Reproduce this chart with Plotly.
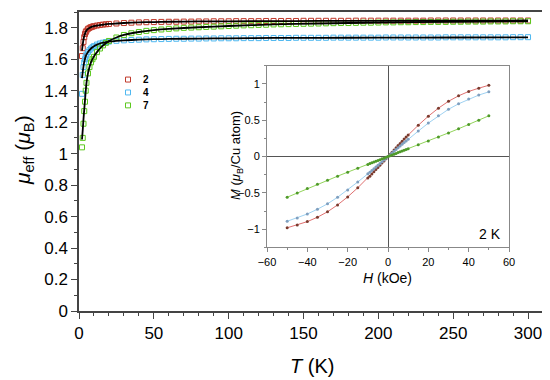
import plotly.graph_objects as go

# ---------------- data: main panel (mu_eff vs T) ----------------
T = [2, 2.5, 3, 3.5, 4, 4.5, 5, 6, 7, 8, 9, 10, 12, 14, 16, 18, 20, 25, 30, 35, 40, 45, 50,
     55, 60, 65, 70, 75, 80, 85, 90, 95, 100, 105, 110, 115, 120, 125, 130, 135, 140, 145, 150,
     155, 160, 165, 170, 175, 180, 185, 190, 195, 200, 205, 210, 215, 220, 225, 230, 235, 240,
     245, 250, 255, 260, 265, 270, 275, 280, 285, 290, 295, 300]

mu_2 = [1.62, 1.67, 1.71, 1.74, 1.760, 1.772, 1.781, 1.793, 1.799, 1.804, 1.807, 1.810, 1.814, 1.817,
        1.820, 1.822, 1.824, 1.827, 1.830, 1.832, 1.834, 1.835, 1.836,
        1.837, 1.838, 1.838, 1.839, 1.839, 1.840, 1.840, 1.841, 1.841, 1.841, 1.842, 1.842, 1.842,
        1.842, 1.843, 1.843, 1.843, 1.843, 1.843, 1.844, 1.844, 1.844, 1.844, 1.844, 1.844, 1.844,
        1.845, 1.845, 1.845, 1.845, 1.845, 1.845, 1.845, 1.845, 1.845, 1.845, 1.846, 1.846, 1.846,
        1.846, 1.846, 1.846, 1.846, 1.846, 1.846, 1.846, 1.846, 1.846, 1.846, 1.846]

mu_4 = [1.38, 1.50, 1.55, 1.58, 1.600, 1.617, 1.630, 1.645, 1.658, 1.668, 1.676, 1.683, 1.693, 1.700,
        1.705, 1.709, 1.712, 1.717, 1.720, 1.722, 1.724, 1.726, 1.727,
        1.728, 1.729, 1.730, 1.730, 1.731, 1.731, 1.732, 1.732, 1.733, 1.733, 1.733, 1.734, 1.734,
        1.734, 1.735, 1.735, 1.735, 1.735, 1.736, 1.736, 1.736, 1.736, 1.736, 1.737, 1.737, 1.737,
        1.737, 1.737, 1.737, 1.737, 1.738, 1.738, 1.738, 1.738, 1.738, 1.738, 1.738, 1.738, 1.739,
        1.739, 1.739, 1.739, 1.739, 1.739, 1.739, 1.739, 1.739, 1.740, 1.740, 1.740]

mu_7 = [1.04, 1.10, 1.19, 1.27, 1.33, 1.40, 1.45, 1.51, 1.55, 1.58, 1.60, 1.615, 1.645, 1.668,
        1.688, 1.704, 1.716, 1.738, 1.754, 1.765, 1.773, 1.780, 1.785,
        1.789, 1.793, 1.796, 1.799, 1.801, 1.803, 1.805, 1.807, 1.809, 1.811, 1.813, 1.815, 1.816,
        1.818, 1.819, 1.821, 1.822, 1.823, 1.824, 1.825, 1.826, 1.827, 1.828, 1.829, 1.830, 1.830,
        1.831, 1.832, 1.832, 1.833, 1.834, 1.834, 1.835, 1.835, 1.836, 1.836, 1.837, 1.837, 1.837,
        1.838, 1.838, 1.839, 1.839, 1.839, 1.840, 1.840, 1.840, 1.841, 1.841, 1.841]

# fitted curves (black lines)
T_fit = [2, 2.5, 3, 3.5, 4, 5, 6, 7, 8, 10, 12, 15, 20, 25, 30, 40, 50, 60, 80, 100, 130, 160,
         200, 250, 300]
fit_2 = [1.655, 1.695, 1.725, 1.747, 1.763, 1.782, 1.793, 1.799, 1.804, 1.810, 1.814, 1.818, 1.824,
         1.827, 1.830, 1.834, 1.836, 1.838, 1.840, 1.841, 1.842, 1.843, 1.844, 1.845, 1.846]
fit_4 = [1.48, 1.52, 1.555, 1.582, 1.602, 1.630, 1.646, 1.658, 1.668, 1.683, 1.693, 1.703, 1.712,
         1.717, 1.720, 1.724, 1.727, 1.729, 1.731, 1.733, 1.735, 1.736, 1.737, 1.738, 1.739]
fit_7 = [1.09, 1.15, 1.22, 1.28, 1.34, 1.45, 1.51, 1.55, 1.58, 1.618, 1.645, 1.678, 1.716, 1.738,
         1.754, 1.773, 1.785, 1.793, 1.803, 1.811, 1.821, 1.827, 1.833, 1.838, 1.841]

# ---------------- data: inset (M vs H at 2 K) ----------------
H = [-50, -45, -40, -35, -30, -25, -20, -15, -10, -9, -8, -7, -6, -5, -4, -3, -2, -1, 0,
     1, 2, 3, 4, 5, 6, 7, 8, 9, 10, 15, 20, 25, 30, 35, 40, 45, 50]
M_2 = [-0.98, -0.94, -0.895, -0.835, -0.76, -0.665, -0.555, -0.43, -0.295, -0.27, -0.24, -0.21,
       -0.18, -0.15, -0.12, -0.09, -0.06, -0.03, 0.0,
       0.03, 0.06, 0.09, 0.12, 0.15, 0.18, 0.21, 0.24, 0.27, 0.295, 0.43, 0.555, 0.665, 0.76,
       0.835, 0.895, 0.94, 0.98]
M_4 = [-0.89, -0.845, -0.79, -0.725, -0.65, -0.56, -0.46, -0.35, -0.238, -0.215, -0.192, -0.168,
       -0.144, -0.12, -0.096, -0.072, -0.048, -0.024, 0.0,
       0.024, 0.048, 0.072, 0.096, 0.12, 0.144, 0.168, 0.192, 0.215, 0.238, 0.35, 0.46, 0.56,
       0.65, 0.725, 0.79, 0.845, 0.89]
M_7 = [-0.56, -0.50, -0.44, -0.382, -0.325, -0.27, -0.215, -0.162, -0.108, -0.097, -0.086, -0.075,
       -0.065, -0.054, -0.043, -0.032, -0.022, -0.011, 0.0,
       0.011, 0.022, 0.032, 0.043, 0.054, 0.065, 0.075, 0.086, 0.097, 0.108, 0.162, 0.215, 0.27,
       0.325, 0.382, 0.44, 0.50, 0.56]

labels = ["2", "4", "7"]
colors = ["#c0392b", "#4fb8f0", "#5cc81e"]
inset_line = ["#e07070", "#9fd2f2", "#92d45a"]
inset_mark = ["#7a3b2e", "#7f9fbf", "#4f9a2a"]

FONT = "Liberation Sans, Arial, sans-serif"
W, Hgt = 550, 380
OFF = 8  # page body margin offset of the figure inside the browser window
# plot-area edges in window pixels
L, R, TOP, BOT = 79, 543, 10, 311


def px(xp, yp):
    return (xp - L) / (R - L), (BOT - yp) / (BOT - TOP)


fig = go.Figure()

for lab, y, c in zip(labels, [mu_2, mu_4, mu_7], colors):
    fig.add_trace(go.Scatter(x=T, y=y, mode="markers", name=lab, showlegend=False,
                             marker=dict(symbol="square-open", size=5, color=c,
                                         line=dict(width=1, color=c)),
                             xaxis="x", yaxis="y"))
for f in [fit_2, fit_4, fit_7]:
    fig.add_trace(go.Scatter(x=T_fit, y=f, mode="lines", showlegend=False,
                             line=dict(color="black", width=1.8, shape="spline", smoothing=0.5),
                             xaxis="x", yaxis="y"))

for m, lc, mc in zip([M_2, M_4, M_7], inset_line, inset_mark):
    fig.add_trace(go.Scatter(x=H, y=m, mode="lines+markers", showlegend=False,
                             line=dict(color=lc, width=1),
                             marker=dict(size=3, color=mc),
                             xaxis="x2", yaxis="y2"))

ax_common = dict(showline=True, mirror=True, ticks="outside", showgrid=False,
                 zeroline=False, tickfont=dict(size=17, color="black", family=FONT))

fig.update_layout(
    width=W, height=Hgt,
    margin=dict(l=L - OFF, r=W - (R - OFF), t=TOP - OFF, b=Hgt - (BOT - OFF)),
    paper_bgcolor="white", plot_bgcolor="white",
    font=dict(family=FONT, color="black"),
    xaxis=dict(range=[0, 310], tickvals=[0, 50, 100, 150, 200, 250, 300], ticklen=6,
               linecolor="#444", linewidth=1.5, tickcolor="#444", tickwidth=1.2,
               minor=dict(ticks="outside", dtick=10, ticklen=3, tickcolor="#444"),
               **ax_common),
    yaxis=dict(range=[0, 1.9], tickvals=[0, 0.2, 0.4, 0.6, 0.8, 1, 1.2, 1.4, 1.6, 1.8],
               ticklen=6, linecolor="#444", linewidth=1.5, tickcolor="#444", tickwidth=1.2,
               minor=dict(ticks="outside", dtick=0.1, ticklen=3, tickcolor="#444"),
               **ax_common),
    xaxis2=dict(domain=[px(267, 0)[0], px(509, 0)[0]], anchor="y2", range=[-60, 60],
                tickvals=[-60, -40, -20, 0, 20, 40, 60], ticks="outside", ticklen=4,
                showline=True, mirror=True, linecolor="#888", linewidth=1, tickcolor="#888",
                showgrid=False, zeroline=True, zerolinecolor="#555", zerolinewidth=1,
                minor=dict(ticks="outside", dtick=10, ticklen=2, tickcolor="#888"),
                tickfont=dict(size=11, color="black", family=FONT)),
    yaxis2=dict(domain=[px(0, 247)[1], px(0, 64)[1]], anchor="x2", range=[-1.25, 1.25],
                tickvals=[-1, -0.5, 0, 0.5, 1], ticks="outside", ticklen=4,
                showline=True, mirror=True, linecolor="#888", linewidth=1, tickcolor="#888",
                showgrid=False, zeroline=True, zerolinecolor="#555", zerolinewidth=1,
                minor=dict(ticks="outside", dtick=0.25, ticklen=2, tickcolor="#888"),
                tickfont=dict(size=11, color="black", family=FONT)),
)

ann = []
xp, yp = px(24, 149)
ann.append(dict(text="<i>μ</i><sub>eff</sub> (<i>μ</i><sub>B</sub>)", x=xp, y=yp, xref="paper",
                yref="paper", textangle=-90, showarrow=False, font=dict(size=21),
                xanchor="center", yanchor="middle"))
xp, yp = px(312, 366)
ann.append(dict(text="<i>T</i> (K)", x=xp, y=yp, xref="paper", yref="paper", showarrow=False,
                font=dict(size=20), xanchor="center", yanchor="middle"))
xp, yp = px(236, 155)
ann.append(dict(text="<i>M</i> (<i>μ</i><sub>B</sub>/Cu atom)", x=xp, y=yp, xref="paper",
                yref="paper", textangle=-90, showarrow=False, font=dict(size=13),
                xanchor="center", yanchor="middle"))
xp, yp = px(387, 278)
ann.append(dict(text="<i>H</i> (kOe)", x=xp, y=yp, xref="paper", yref="paper", showarrow=False,
                font=dict(size=14), xanchor="center", yanchor="middle"))
xp, yp = px(490, 233)
ann.append(dict(text="2 K", x=xp, y=yp, xref="paper", yref="paper", showarrow=False,
                font=dict(size=14), xanchor="center", yanchor="middle"))

shapes = []
for i, (lab, c) in enumerate(zip(labels, colors)):
    cy = 78 + 13 * i
    x0, y0 = px(125.5, cy + 2.5)
    x1, y1 = px(130.5, cy - 2.5)
    shapes.append(dict(type="rect", xref="paper", yref="paper", x0=x0, x1=x1, y0=y0, y1=y1,
                       line=dict(color=c, width=1), fillcolor="rgba(0,0,0,0)"))
    xp, yp = px(141, cy)
    ann.append(dict(text="<b>%s</b>" % lab, x=xp, y=yp, xref="paper", yref="paper",
                    showarrow=False, font=dict(size=10), xanchor="left", yanchor="middle"))

fig.update_layout(annotations=ann, shapes=shapes)
fig.write_html("out.html")
